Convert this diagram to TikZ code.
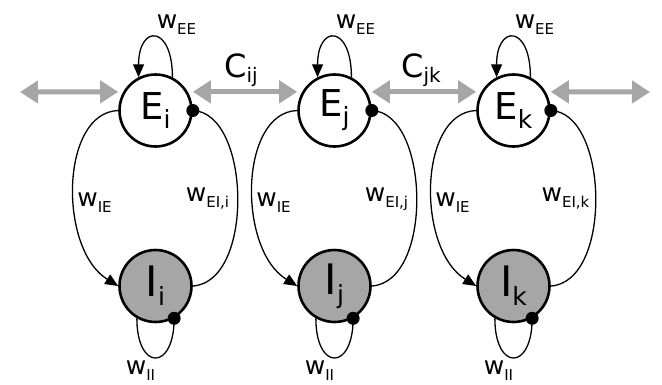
\documentclass[tikz,border=0pt]{standalone}
\usepackage{fontspec}
\setmainfont{DejaVu Sans}
\usetikzlibrary{arrows.meta}
\definecolor{lgray}{RGB}{166,166,166}
\newcommand{\wlab}[1]{{\fontsize{25}{25}\selectfont w}\raisebox{-6pt}{\fontsize{15}{15}\selectfont #1}}
\newcommand{\poplab}[3]{{\fontsize{#1}{#1}\selectfont #2}\raisebox{-9pt}{\fontsize{25}{25}\selectfont #3}}
\newcommand{\clab}[1]{{\fontsize{32}{32}\selectfont C}\raisebox{-5pt}{\fontsize{20}{20}\selectfont #1}}
\begin{document}
\begin{tikzpicture}[x=1pt,y=-1pt,
  pop/.style={circle,draw,line width=2.6pt,minimum size=72pt,inner sep=0pt},
  epop/.style={pop,fill=white},
  ipop/.style={pop,fill=lgray},
  conn/.style={line width=1.3pt},
  exc/.style={conn,-{Triangle[length=13pt,width=11pt]}},
  coup/.style={line width=5pt,draw=lgray,{Triangle[length=18pt,width=22pt]}-{Triangle[length=18pt,width=22pt]},shorten <=5pt,shorten >=5pt},
  lbl/.style={inner sep=0pt}]
\useasboundingbox (0,0) rectangle (662,384);
\coordinate (L) at (15,92);
\coordinate (R) at (655,92);
\foreach \n/\x/\s in {i/155.5/i, j/334.5/j, k/513.5/k}{
  \node[epop] (E\n) at (\x,110.5) {\poplab{37}{E}{\s}\hspace{10pt}};
  \node[ipop] (I\n) at (\x,286) {\poplab{42}{I}{\s}};
  % self excitation
  \draw[exc] (E\n.63) .. controls +(0,-53) and +(0,-53) .. (E\n.117);
  \node[lbl] at (\x+21,25) {\wlab{EE}};
  % self inhibition
  \draw[conn] (I\n.240) .. controls +(0,53) and +(0,53) .. (I\n.300);
  \fill (I\n.300) circle (6.5pt);
  \node[lbl] at (\x-15,371) {\wlab{II}};
  % E -> I
  \draw[exc] (E\n.west) .. controls +(-58,2) and +(-60,-37) .. (I\n.west);
  \node[lbl] at (\x-61,203) {\wlab{IE}};
  % I -| E
  \draw[conn] (I\n.east) .. controls +(62,-4) and +(58,2) .. (E\n.east);
  \fill (E\n.east) circle (6.5pt);
  \node[lbl] at (\x+52,199) {\wlab{EI,\s}};
}
\draw[coup] (L) -- (Ei.150);
\draw[coup] (Ei.30) -- (Ej.150);
\draw[coup] (Ej.30) -- (Ek.150);
\draw[coup] (Ek.30) -- (R);
\node[lbl] at (241,70) {\clab{ij}};
\node[lbl] at (421,70) {\clab{jk}};
\end{tikzpicture}
\end{document}
